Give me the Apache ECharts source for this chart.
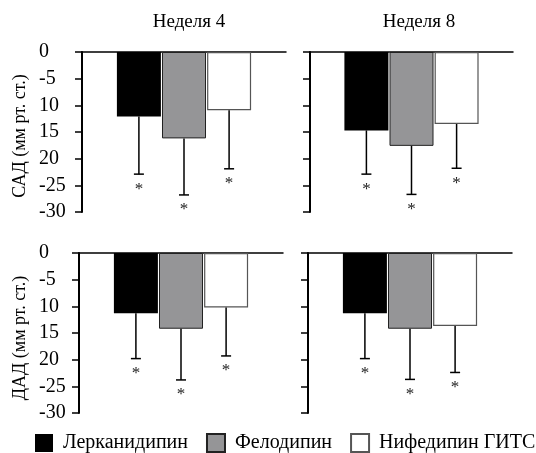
<!DOCTYPE html>
<html>
<head>
<meta charset="utf-8">
<script src="https://cdn.jsdelivr.net/npm/echarts@6/dist/echarts.min.js"></script>
<style>
html,body{margin:0;padding:0;background:#fff;}
#chart{width:536px;height:453px;}
</style>
</head>
<body>
<div id="chart"></div>
<script>
// ---- data ----
var weeks = ['Неделя 4', 'Неделя 8'];
var drugs = ['Лерканидипин', 'Фелодипин', 'Нифедипин ГИТС'];
var yTickLabels = ['0', '-5', '10', '15', '20', '-25', '-30'];
var yTitles = ['САД (мм рт. ст.)', 'ДАД (мм рт. ст.)'];
// mean change
var sadWeek4 = [-12.1, -16.2, -10.9];
var sadWeek8 = [-14.7, -17.6, -13.5];
var dadWeek4 = [-11.3, -14.2, -10.2];
var dadWeek8 = [-11.3, -14.2, -13.7];
// lower end of error bar
var sadWeek4Low = [-22.9, -26.8, -21.9];
var sadWeek8Low = [-22.9, -26.7, -21.8];
var dadWeek4Low = [-19.8, -23.8, -19.3];
var dadWeek8Low = [-19.8, -23.7, -22.4];

var FONT = '"Liberation Serif", "Times New Roman", serif';
var barW = 44;
var gapRatio = 0.025;
var drugStyles = [
  {color: '#000000', borderColor: '#000000', borderWidth: 0},
  {color: '#959597', borderColor: '#222222', borderWidth: 1},
  {color: '#ffffff', borderColor: '#555555', borderWidth: 1.2}
];

var panels = [
  {vals: sadWeek4, low: sadWeek4Low, grid: {left: 82, top: 52, width: 204, height: 160}, labels: true},
  {vals: sadWeek8, low: sadWeek8Low, grid: {left: 310, top: 52, width: 203, height: 160}, labels: false},
  {vals: dadWeek4, low: dadWeek4Low, grid: {left: 79, top: 253, width: 204, height: 160}, labels: true},
  {vals: dadWeek8, low: dadWeek8Low, grid: {left: 308, top: 253, width: 204, height: 160}, labels: false}
];

var grids = [], xAxes = [], yAxes = [], series = [];
panels.forEach(function (p, pi) {
  grids.push(p.grid);
  xAxes.push({
    type: 'category', gridIndex: pi, data: [''],
    axisLine: {show: true, onZero: true, lineStyle: {color: '#000', width: 1.5}},
    axisTick: {show: false}, axisLabel: {show: false}, splitLine: {show: false}
  });
  yAxes.push({
    type: 'value', gridIndex: pi, min: -30, max: 0, interval: 5,
    axisLine: {show: true, lineStyle: {color: '#000', width: 2}},
    axisTick: {show: true, length: 7, lineStyle: {color: '#000', width: 1.5}},
    splitLine: {show: false},
    axisLabel: {
      show: p.labels, align: 'left', margin: p.grid.left - 39,
      fontFamily: FONT, fontSize: 20, color: '#000',
      formatter: function (v) { return yTickLabels[Math.round(-v / 5)]; }
    }
  });
  drugs.forEach(function (d, di) {
    series.push({
      type: 'bar', name: d, xAxisIndex: pi, yAxisIndex: pi,
      barWidth: barW, barGap: (gapRatio * 100) + '%',
      data: [p.vals[di]],
      itemStyle: drugStyles[di],
      emphasis: {disabled: true},
      animation: false
    });
  });
  var errData = drugs.map(function (d, di) { return [0, p.vals[di], p.low[di], di]; });
  series.push({
    type: 'custom', xAxisIndex: pi, yAxisIndex: pi, data: errData, z: 5, animation: false,
    renderItem: function (params, api) {
      var c = api.coord([api.value(0), 0]);
      var di = api.value(3);
      var x = c[0] + (di - 1) * (barW * (1 + gapRatio));
      var yTop = api.coord([api.value(0), api.value(1)])[1];
      var yBot = api.coord([api.value(0), api.value(2)])[1];
      return {
        type: 'group',
        children: [
          {type: 'line', shape: {x1: x, y1: yTop, x2: x, y2: yBot}, style: {stroke: '#000', lineWidth: 1.5}},
          {type: 'line', shape: {x1: x - 5, y1: yBot, x2: x + 5, y2: yBot}, style: {stroke: '#000', lineWidth: 1.5}},
          {type: 'text', x: x, y: yBot + 15, style: {text: '*', fontFamily: FONT, fontSize: 17, fill: '#222', textAlign: 'center', textVerticalAlign: 'middle'}}
        ]
      };
    }
  });
});

var graphics = [
  {type: 'text', x: 189, y: 22, style: {text: weeks[0], fontFamily: FONT, fontSize: 19, fill: '#000', textAlign: 'center', textVerticalAlign: 'middle'}},
  {type: 'text', x: 419, y: 22, style: {text: weeks[1], fontFamily: FONT, fontSize: 19, fill: '#000', textAlign: 'center', textVerticalAlign: 'middle'}},
  {type: 'text', x: 20, y: 136, rotation: Math.PI / 2, style: {text: yTitles[0], fontFamily: FONT, fontSize: 18, fill: '#000', textAlign: 'center', textVerticalAlign: 'middle'}},
  {type: 'text', x: 20, y: 338, rotation: Math.PI / 2, style: {text: yTitles[1], fontFamily: FONT, fontSize: 18, fill: '#000', textAlign: 'center', textVerticalAlign: 'middle'}}
];

var chart = echarts.init(document.getElementById('chart'), null, {renderer: 'canvas'});
chart.setOption({
  animation: false,
  backgroundColor: '#ffffff',
  grid: grids,
  xAxis: xAxes,
  yAxis: yAxes,
  series: series,
  graphic: graphics,
  legend: {
    data: drugs, left: 35, top: 433, width: 560, padding: 0, itemWidth: 18, itemHeight: 18, itemGap: 18,
    icon: 'rect', selectedMode: false,
    textStyle: {fontFamily: FONT, fontSize: 20, color: '#000', padding: [0, 0, 0, 5]}
  }
});
</script>
</body>
</html>
